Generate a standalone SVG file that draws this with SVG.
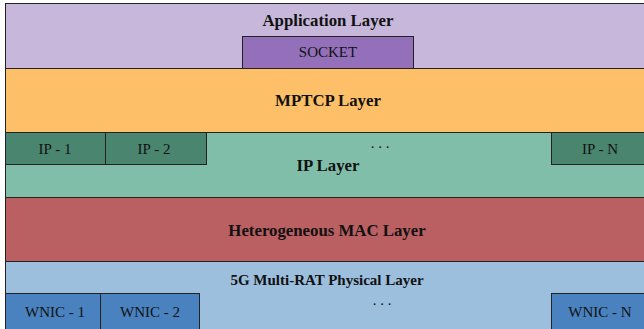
<svg xmlns="http://www.w3.org/2000/svg" width="644" height="329" viewBox="0 0 644 329">
<style>
.b{stroke:#222;stroke-width:1}
.t{font-family:"Liberation Serif",serif;fill:#111;text-anchor:middle}
.h{font-weight:bold;font-size:16.8px}
.s{font-size:15px}
</style>
<rect width="644" height="329" fill="#fff"/>
<g id="app"><rect class="b" x="5.5" y="3.5" width="640" height="65" fill="#C7B8DB" stroke="#888"/>
<text class="t h" x="328" y="26">Application Layer</text></g>
<g id="socket"><rect class="b" x="242.5" y="36.5" width="171" height="32" fill="#9370B9"/>
<text class="t s" x="328" y="57">SOCKET</text></g>
<g id="mptcp"><rect class="b" x="5.5" y="68.5" width="640" height="64" fill="#FDC068"/>
<text class="t h" x="328" y="106">MPTCP Layer</text></g>
<g id="ip"><rect class="b" x="5.5" y="132.5" width="640" height="65" fill="#81BEA9"/>
<text class="t h" x="328" y="171">IP Layer</text>
<text class="t s" x="380" y="148">. . .</text></g>
<g id="ip1"><rect class="b" x="5.5" y="132.5" width="100" height="32" fill="#4A8570"/>
<text class="t s" x="55" y="154">IP - 1</text></g>
<g id="ip2"><rect class="b" x="105.5" y="132.5" width="101" height="32" fill="#4A8570"/>
<text class="t s" x="154" y="154">IP - 2</text></g>
<g id="ipn"><rect class="b" x="551.5" y="132.5" width="94" height="32" fill="#4A8570"/>
<text class="t s" x="600" y="154">IP - N</text></g>
<g id="mac"><rect class="b" x="5.5" y="197.5" width="640" height="64" fill="#BA5F62"/>
<text class="t h" x="327" y="236">Heterogeneous MAC Layer</text></g>
<g id="phy"><rect class="b" x="5.5" y="261.5" width="640" height="70" fill="#9DBFDE"/>
<text class="t" x="327" y="285" style="font-weight:bold;font-size:15px">5G Multi-RAT Physical Layer</text>
<text class="t s" x="382" y="305">. . .</text></g>
<g id="wnic1"><rect class="b" x="5.5" y="293.5" width="95" height="38" fill="#4A82C0"/>
<text class="t s" x="55" y="317">WNIC - 1</text></g>
<g id="wnic2"><rect class="b" x="100.5" y="293.5" width="99" height="38" fill="#4A82C0"/>
<text class="t s" x="150" y="317">WNIC - 2</text></g>
<g id="wnicn"><rect class="b" x="551.5" y="293.5" width="94" height="38" fill="#4A82C0"/>
<text class="t s" x="600" y="317">WNIC - N</text></g>
<g id="connectors"></g>
</svg>
